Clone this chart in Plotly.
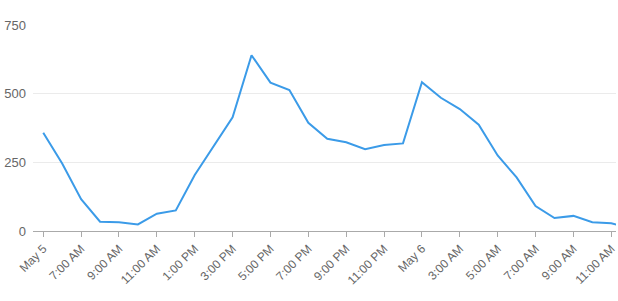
import pandas as pd
import plotly.graph_objects as go

times = pd.date_range("2024-05-05 05:00", "2024-05-06 12:00", freq="h")
values = [358, 246, 116, 34, 32, 24, 63, 75, 204, 309, 414, 640, 540, 513,
          394, 336, 323, 298, 313, 319, 542, 485, 444, 387, 275, 195, 91, 47,
          55, 32, 28, 10]

tick_vals = pd.date_range("2024-05-05 05:00", "2024-05-06 11:00", freq="2h")
tick_text = ["May 5", "7:00 AM", "9:00 AM", "11:00 AM", "1:00 PM", "3:00 PM",
             "5:00 PM", "7:00 PM", "9:00 PM", "11:00 PM", "May 6", "3:00 AM",
             "5:00 AM", "7:00 AM", "9:00 AM", "11:00 AM"]
y_ticks = [0, 250, 500, 750]

fig = go.Figure(go.Scatter(
    x=times, y=values, mode="lines",
    line=dict(color="#3b9be8", width=2),
    hoverinfo="skip",
))

fig.update_layout(
    width=618, height=301,
    margin=dict(l=33, r=0, t=25, b=70),
    paper_bgcolor="white", plot_bgcolor="white",
    showlegend=False,
    font=dict(family="Liberation Sans, Arial, sans-serif", size=12, color="#666666"),
)
fig.update_xaxes(
    range=["2024-05-05 04:27:30", "2024-05-06 11:15"],
    tickvals=tick_vals, ticktext=tick_text, tickangle=-45,
    ticks="outside", ticklen=5, tickcolor="#aaaaaa",
    showline=True, linecolor="#aaaaaa", linewidth=1,
    showgrid=False, zeroline=False,
    ticklabeloverflow="allow",
    tickfont=dict(size=12, color="#666666"),
)
fig.update_yaxes(
    range=[0, 750], tickvals=y_ticks,
    showgrid=True, gridcolor="#ebebeb", gridwidth=1,
    zeroline=False, showline=False,
    ticklabelstandoff=6,
    tickfont=dict(size=13, color="#666666"),
)

fig.write_html("out.html")
